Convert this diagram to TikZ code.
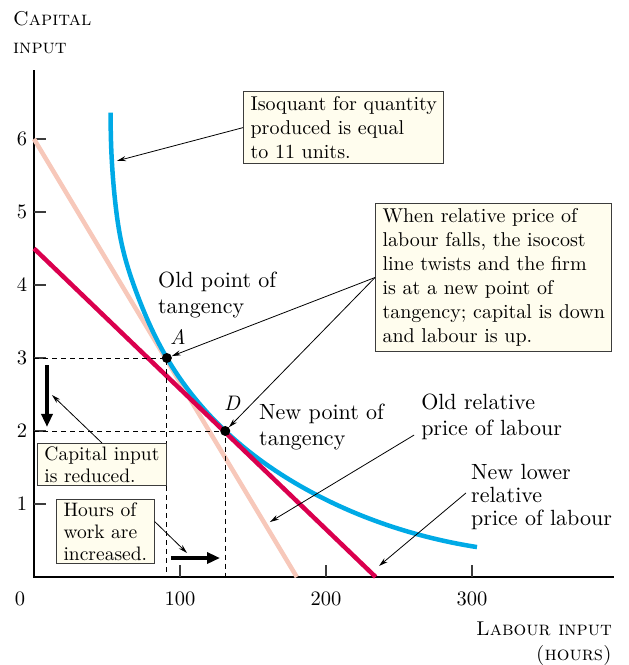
\documentclass[tikz,border=0pt]{standalone}
\usepackage{fontspec}
\setmainfont{lmroman10-regular.otf}[
  ItalicFont=lmroman10-italic.otf,
  BoldFont=lmroman10-bold.otf,
  SmallCapsFont=lmromancaps10-regular.otf,
]
\usepackage{tikz}
\usetikzlibrary{
  hobby,
  arrows.meta,
  positioning,
}

\definecolor{isoquantblue}{RGB}{0,170,230}
\definecolor{newcostred}{RGB}{218,0,78}
\definecolor{oldcostpink}{RGB}{247,200,186}
\definecolor{notefill}{RGB}{255,253,238}
\definecolor{axisgray}{RGB}{60,60,60}

\begin{document}
\begin{tikzpicture}[
  x=1.46pt, y=73pt,
  use Hobby shortcut,
  every node/.style={font=\fontsize{20.5}{24}\selectfont},
  note/.style={draw=axisgray, line width=1pt, fill=notefill, align=left,
    inner xsep=7pt, inner ysep=5pt, anchor=north west,
    font=\fontsize{20}{24}\selectfont},
  textlabel/.style={align=left, inner sep=0pt, anchor=north west,
    font=\fontsize{22}{26}\selectfont},
  pointer/.style={-{Stealth[length=9pt,width=5pt]}, line width=0.8pt},
  bigarrow/.style={-{Triangle[length=13pt,width=11pt]}, line width=4pt},
  guide/.style={dash pattern=on 5pt off 4pt, line width=0.9pt},
  costline/.style={line width=4.5pt},
  tangdot/.style={circle, fill=black, inner sep=0pt, minimum size=10pt},
]
\useasboundingbox (-23.29,-1.2055) rectangle (406.85,7.904);

% axes and ticks
\draw[line width=1.2pt] (0,6.945) -- (0,0) -- (397.3,0);
\foreach \k in {1,...,6}{
  \draw[axisgray, line width=1.2pt] (0,\k) -- (8.2,\k);
  \node[anchor=east, inner sep=0pt] (ytick\k) at (-4.5,\k) {\k};
}
\foreach \k in {100,200,300}{
  \draw[axisgray, line width=1.2pt] (\k,0) -- (\k,0.164);
  \node[anchor=north, inner sep=0pt] (xtick\k) at (\k,-0.205) {\k};
}
\node[anchor=north, inner sep=0pt] (origin) at (-9.6,-0.205) {0};
\node[textlabel, font=\fontsize{20}{28}\selectfont] (ylabel) at (-14.38,7.75)
  {\textsc{Capital}\\\textsc{input}};
\node[align=right, inner sep=0pt, anchor=north east, font=\fontsize{20}{25}\selectfont]
  (xlabel) at (395.9,-0.616) {\textsc{Labour input}\\\textsc{(hours)}};

% isocost lines and isoquant
\draw[oldcostpink, costline] (0,6) -- (180,0);
\draw[isoquantblue, costline] (52.5,6.36) .. (55.5,5.16) .. (61,4.48) .. (70.3,3.89)
  .. (91,3) .. (131,2) .. (191.1,1.15) .. (269.2,0.55) .. (303.4,0.41);
\draw[newcostred, costline] (0,4.5) -- (234,0);

% tangency points
\draw[guide] (0,3) -| (91,0);
\draw[guide] (0,2) -| (131,0);
\node[tangdot] (A) at (91,3) {};
\node[tangdot] (D) at (131,2) {};
\node[font=\fontsize{21}{24}\selectfont\itshape] (Alabel) at (98.6,3.29) {A};
\node[font=\fontsize{21}{24}\selectfont\itshape] (Dlabel) at (135.6,2.384) {D};

% labels
\node[textlabel] (oldtan) at (84.9,4.178) {Old point of\\tangency};
\node[textlabel] (newtan) at (154.1,2.370) {New point of\\tangency};
\node[textlabel] (oldprice) at (265.1,2.507) {Old relative\\price of labour};
\node[textlabel, font=\fontsize{22}{23}\selectfont] (newprice) at (299.3,1.548)
  {New lower\\relative\\price of labour};

% notes
\node[note] (isonote) at (143.2,6.658) {Isoquant for quantity\\produced is equal\\to 11 units.};
\node[note] (twistnote) at (233.6,5.123) {When relative price of\\labour falls, the isocost\\line twists and the firm\\is at a new point of\\tangency; capital is down\\and labour is up.};
\node[note, inner ysep=3pt, font=\fontsize{19.5}{22}\selectfont] (capnote) at (2.05,1.836)
  {Capital input\\is reduced.};
\node[note, inner ysep=3pt, font=\fontsize{19.5}{22}\selectfont] (hoursnote) at (15.1,1.068)
  {Hours of\\work are\\increased.};

% pointers
\coordinate (isoquantpt) at (56.8,5.70);
\coordinate (oldcostpt) at (161.6,0.753);
\coordinate (newcostpt) at (236.3,0.151);
\coordinate (capitalpt) at (12.3,2.493);
\coordinate (hourspt) at (104.8,0.329);
\draw[pointer] (isonote.west) -- (isoquantpt);
\draw[pointer] (twistnote.west) -- (A);
\draw[pointer] (twistnote.west) -- (D);
\draw[pointer] ([shift={(-7pt,-18pt)}]oldprice.west) -- (oldcostpt);
\draw[pointer] ([shift={(-5pt,4pt)}]newprice.west) -- (newcostpt);
\draw[pointer] (capnote.north) -- (capitalpt);
\draw[pointer] ([yshift=10pt]hoursnote.east) -- (hourspt);

% change in inputs
\coordinate (capitaltop) at (8.9,2.904);
\coordinate (capitalend) at (8.9,2.055);
\coordinate (hoursstart) at (93.8,0.26);
\coordinate (hoursend) at (127.4,0.26);
\draw[bigarrow] (capitaltop) -- (capitalend);
\draw[bigarrow] (hoursstart) -- (hoursend);
\end{tikzpicture}
\end{document}
